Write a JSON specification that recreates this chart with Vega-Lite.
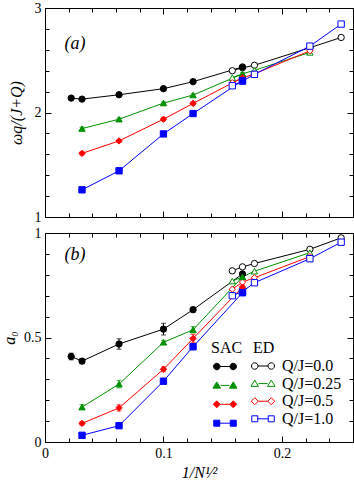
{
  "$schema": "https://vega.github.io/schema/vega-lite/v6.json",
  "padding": {"left": 1, "top": 0, "right": 0, "bottom": 0},
  "background": "white",
  "spacing": 0,
  "config": {
    "font": "Liberation Serif",
    "view": {"stroke": "black", "strokeWidth": 1},
    "axis": {"grid": false, "domain": false, "tickColor": "black", "tickWidth": 1, "labelColor": "black", "labelFont": "Liberation Serif", "labelFontSize": 14, "titleFont": "Liberation Serif", "titleColor": "black", "titleFontWeight": "normal", "titleFontSize": 16, "titleFontStyle": "italic", "labelFlush": false, "labelOverlap": false},
    "legend": {"labelFont": "Liberation Serif", "labelFontSize": 16, "labelColor": "black", "titleFont": "Liberation Serif", "titleFontSize": 16, "titleFontWeight": "normal", "titleColor": "black", "symbolSize": 100, "symbolStrokeWidth": 1}
  },
  "datasets": {
    "pts": [
      {"panel": "a", "method": "SAC", "label": "Q/J=0.0", "x": 0.0221, "y": 2.138, "err": 0.01},
      {"panel": "a", "method": "SAC", "label": "Q/J=0.0", "x": 0.03125, "y": 2.128, "err": 0.01},
      {"panel": "a", "method": "SAC", "label": "Q/J=0.0", "x": 0.0625, "y": 2.17, "err": 0.01},
      {"panel": "a", "method": "SAC", "label": "Q/J=0.0", "x": 0.1, "y": 2.228, "err": 0.01},
      {"panel": "a", "method": "SAC", "label": "Q/J=0.0", "x": 0.125, "y": 2.295, "err": 0.01},
      {"panel": "a", "method": "SAC", "label": "Q/J=0.0", "x": 0.1667, "y": 2.436, "err": 0.01},
      {"panel": "a", "method": "SAC", "label": "Q/J=0.25", "x": 0.03125, "y": 1.846, "err": 0.012},
      {"panel": "a", "method": "SAC", "label": "Q/J=0.25", "x": 0.0625, "y": 1.936, "err": 0.012},
      {"panel": "a", "method": "SAC", "label": "Q/J=0.25", "x": 0.1, "y": 2.09, "err": 0.012},
      {"panel": "a", "method": "SAC", "label": "Q/J=0.25", "x": 0.125, "y": 2.167, "err": 0.012},
      {"panel": "a", "method": "SAC", "label": "Q/J=0.25", "x": 0.1667, "y": 2.369, "err": 0.012},
      {"panel": "a", "method": "SAC", "label": "Q/J=0.5", "x": 0.03125, "y": 1.609, "err": 0.015},
      {"panel": "a", "method": "SAC", "label": "Q/J=0.5", "x": 0.0625, "y": 1.728, "err": 0.015},
      {"panel": "a", "method": "SAC", "label": "Q/J=0.5", "x": 0.1, "y": 1.936, "err": 0.015},
      {"panel": "a", "method": "SAC", "label": "Q/J=0.5", "x": 0.125, "y": 2.087, "err": 0.015},
      {"panel": "a", "method": "SAC", "label": "Q/J=0.5", "x": 0.1667, "y": 2.333, "err": 0.015},
      {"panel": "a", "method": "SAC", "label": "Q/J=1.0", "x": 0.03125, "y": 1.26, "err": 0.012},
      {"panel": "a", "method": "SAC", "label": "Q/J=1.0", "x": 0.0625, "y": 1.442, "err": 0.012},
      {"panel": "a", "method": "SAC", "label": "Q/J=1.0", "x": 0.1, "y": 1.795, "err": 0.012},
      {"panel": "a", "method": "SAC", "label": "Q/J=1.0", "x": 0.125, "y": 1.99, "err": 0.012},
      {"panel": "a", "method": "SAC", "label": "Q/J=1.0", "x": 0.1667, "y": 2.305, "err": 0.012},
      {"panel": "a", "method": "ED", "label": "Q/J=0.0", "x": 0.1581, "y": 2.4},
      {"panel": "a", "method": "ED", "label": "Q/J=0.0", "x": 0.1667, "y": 2.428},
      {"panel": "a", "method": "ED", "label": "Q/J=0.0", "x": 0.1768, "y": 2.452},
      {"panel": "a", "method": "ED", "label": "Q/J=0.0", "x": 0.2236, "y": 2.62},
      {"panel": "a", "method": "ED", "label": "Q/J=0.0", "x": 0.25, "y": 2.718},
      {"panel": "a", "method": "ED", "label": "Q/J=0.25", "x": 0.1581, "y": 2.333},
      {"panel": "a", "method": "ED", "label": "Q/J=0.25", "x": 0.1667, "y": 2.37},
      {"panel": "a", "method": "ED", "label": "Q/J=0.25", "x": 0.1768, "y": 2.404},
      {"panel": "a", "method": "ED", "label": "Q/J=0.25", "x": 0.2236, "y": 2.575},
      {"panel": "a", "method": "ED", "label": "Q/J=0.5", "x": 0.1581, "y": 2.285},
      {"panel": "a", "method": "ED", "label": "Q/J=0.5", "x": 0.1667, "y": 2.33},
      {"panel": "a", "method": "ED", "label": "Q/J=0.5", "x": 0.1768, "y": 2.37},
      {"panel": "a", "method": "ED", "label": "Q/J=0.5", "x": 0.2236, "y": 2.59},
      {"panel": "a", "method": "ED", "label": "Q/J=1.0", "x": 0.1581, "y": 2.256},
      {"panel": "a", "method": "ED", "label": "Q/J=1.0", "x": 0.1667, "y": 2.3},
      {"panel": "a", "method": "ED", "label": "Q/J=1.0", "x": 0.1768, "y": 2.365},
      {"panel": "a", "method": "ED", "label": "Q/J=1.0", "x": 0.2236, "y": 2.635},
      {"panel": "a", "method": "ED", "label": "Q/J=1.0", "x": 0.25, "y": 2.846},

      {"panel": "b", "method": "SAC", "label": "Q/J=0.0", "x": 0.0221, "y": 0.409, "err": 0.016},
      {"panel": "b", "method": "SAC", "label": "Q/J=0.0", "x": 0.03125, "y": 0.387, "err": 0.012},
      {"panel": "b", "method": "SAC", "label": "Q/J=0.0", "x": 0.0625, "y": 0.469, "err": 0.025},
      {"panel": "b", "method": "SAC", "label": "Q/J=0.0", "x": 0.1, "y": 0.54, "err": 0.028},
      {"panel": "b", "method": "SAC", "label": "Q/J=0.0", "x": 0.125, "y": 0.633, "err": 0.012},
      {"panel": "b", "method": "SAC", "label": "Q/J=0.0", "x": 0.1667, "y": 0.804, "err": 0.012},
      {"panel": "b", "method": "SAC", "label": "Q/J=0.25", "x": 0.03125, "y": 0.167, "err": 0.012},
      {"panel": "b", "method": "SAC", "label": "Q/J=0.25", "x": 0.0625, "y": 0.277, "err": 0.018},
      {"panel": "b", "method": "SAC", "label": "Q/J=0.25", "x": 0.1, "y": 0.477, "err": 0.01},
      {"panel": "b", "method": "SAC", "label": "Q/J=0.25", "x": 0.125, "y": 0.537, "err": 0.015},
      {"panel": "b", "method": "SAC", "label": "Q/J=0.25", "x": 0.1667, "y": 0.79, "err": 0.01},
      {"panel": "b", "method": "SAC", "label": "Q/J=0.5", "x": 0.03125, "y": 0.089, "err": 0.008},
      {"panel": "b", "method": "SAC", "label": "Q/J=0.5", "x": 0.0625, "y": 0.163, "err": 0.015},
      {"panel": "b", "method": "SAC", "label": "Q/J=0.5", "x": 0.1, "y": 0.348, "err": 0.012},
      {"panel": "b", "method": "SAC", "label": "Q/J=0.5", "x": 0.125, "y": 0.495, "err": 0.02},
      {"panel": "b", "method": "SAC", "label": "Q/J=0.5", "x": 0.1667, "y": 0.741, "err": 0.01},
      {"panel": "b", "method": "SAC", "label": "Q/J=1.0", "x": 0.03125, "y": 0.032, "err": 0.006},
      {"panel": "b", "method": "SAC", "label": "Q/J=1.0", "x": 0.0625, "y": 0.078, "err": 0.008},
      {"panel": "b", "method": "SAC", "label": "Q/J=1.0", "x": 0.1, "y": 0.291, "err": 0.012},
      {"panel": "b", "method": "SAC", "label": "Q/J=1.0", "x": 0.125, "y": 0.456, "err": 0.015},
      {"panel": "b", "method": "SAC", "label": "Q/J=1.0", "x": 0.1667, "y": 0.714, "err": 0.01},
      {"panel": "b", "method": "ED", "label": "Q/J=0.0", "x": 0.1581, "y": 0.819},
      {"panel": "b", "method": "ED", "label": "Q/J=0.0", "x": 0.1667, "y": 0.838},
      {"panel": "b", "method": "ED", "label": "Q/J=0.0", "x": 0.1768, "y": 0.854},
      {"panel": "b", "method": "ED", "label": "Q/J=0.0", "x": 0.2236, "y": 0.922},
      {"panel": "b", "method": "ED", "label": "Q/J=0.0", "x": 0.25, "y": 0.977},
      {"panel": "b", "method": "ED", "label": "Q/J=0.25", "x": 0.1581, "y": 0.77},
      {"panel": "b", "method": "ED", "label": "Q/J=0.25", "x": 0.1667, "y": 0.79},
      {"panel": "b", "method": "ED", "label": "Q/J=0.25", "x": 0.1768, "y": 0.817},
      {"panel": "b", "method": "ED", "label": "Q/J=0.25", "x": 0.2236, "y": 0.906},
      {"panel": "b", "method": "ED", "label": "Q/J=0.5", "x": 0.1581, "y": 0.731},
      {"panel": "b", "method": "ED", "label": "Q/J=0.5", "x": 0.1667, "y": 0.765},
      {"panel": "b", "method": "ED", "label": "Q/J=0.5", "x": 0.1768, "y": 0.786},
      {"panel": "b", "method": "ED", "label": "Q/J=0.5", "x": 0.2236, "y": 0.887},
      {"panel": "b", "method": "ED", "label": "Q/J=1.0", "x": 0.1581, "y": 0.7},
      {"panel": "b", "method": "ED", "label": "Q/J=1.0", "x": 0.1667, "y": 0.72},
      {"panel": "b", "method": "ED", "label": "Q/J=1.0", "x": 0.1768, "y": 0.762},
      {"panel": "b", "method": "ED", "label": "Q/J=1.0", "x": 0.2236, "y": 0.877},
      {"panel": "b", "method": "ED", "label": "Q/J=1.0", "x": 0.25, "y": 0.956}
    ]
  },
  "data": {"name": "pts"},
  "vconcat": [
    {
      "width": 308,
      "height": 209,
      "resolve": {"axis": {"x": "independent", "y": "independent"}},
      "layer": [
        {
          "encoding": {
            "x": {"field": "x", "type": "quantitative", "scale": {"domain": [0, 0.26], "nice": false, "zero": false}, "axis": {"orient": "bottom", "values": [0, 0.1, 0.2], "labels": false, "tickSize": -6, "title": null}},
            "y": {"field": "y", "type": "quantitative", "scale": {"domain": [1, 3], "nice": false, "zero": false}, "axis": {"orient": "left", "values": [1, 2, 3], "format": ".1~f", "labelOverlap": false, "labelBound": false, "tickSize": -6, "labelPadding": 10, "title": "ωq/(J+Q)", "titlePadding": 10}}
          },
          "layer": [
            {"transform": [{"filter": "datum.panel == 'a'"}], "mark": {"type": "line", "strokeWidth": 1}, "encoding": {"stroke": {"field": "label", "type": "nominal", "scale": {"range": ["#000000", "#009000", "#ff0000", "#0000ff"]}, "legend": null}, "detail": {"field": "method"}, "order": {"field": "x", "type": "quantitative"}}},
            {"transform": [{"filter": "datum.panel == 'a' && datum.method == 'ED'"}], "mark": {"type": "point", "filled": false, "fill": "white", "size": 40, "strokeWidth": 1, "opacity": 1}, "encoding": {"stroke": {"field": "label", "type": "nominal", "legend": null}, "shape": {"field": "label", "type": "nominal", "scale": {"range": ["circle", "triangle-up", "diamond", "square"]}, "legend": null}}},
            {"transform": [{"filter": "datum.panel == 'a' && datum.method == 'SAC'"}], "mark": {"type": "errorbar", "ticks": true, "thickness": 1}, "encoding": {"yError": {"field": "err"}, "color": {"field": "label", "type": "nominal", "scale": {"domain": ["Q/J=0.0", "Q/J=0.25", "Q/J=0.5", "Q/J=1.0"], "range": ["#000000", "#009000", "#ff0000", "#0000ff"]}, "legend": null}}},
            {"transform": [{"filter": "datum.panel == 'a' && datum.method == 'SAC'"}], "mark": {"type": "point", "filled": true, "size": 40, "strokeWidth": 1, "opacity": 1}, "encoding": {"fill": {"field": "label", "type": "nominal", "scale": {"domain": ["Q/J=0.0", "Q/J=0.25", "Q/J=0.5", "Q/J=1.0"], "range": ["#000000", "#009000", "#ff0000", "#0000ff"]}, "legend": null}, "stroke": {"field": "label", "type": "nominal", "legend": null}, "shape": {"field": "label", "type": "nominal", "legend": null}}}
          ]
        },
        {"transform": [{"filter": "datum.panel == 'a'"}], "mark": {"type": "point", "opacity": 0}, "encoding": {"x": {"field": "x", "type": "quantitative", "axis": {"orient": "bottom", "values": [0.02, 0.04, 0.06, 0.08, 0.12, 0.14, 0.16, 0.18, 0.22, 0.24], "labels": false, "tickSize": -4, "title": null}}, "y": {"field": "y", "type": "quantitative", "axis": {"orient": "left", "values": [1.2, 1.4, 1.6, 1.8, 2.2, 2.4, 2.6, 2.8], "labels": false, "tickSize": -4, "title": null}}}},
        {"transform": [{"filter": "datum.panel == 'a'"}], "mark": {"type": "point", "opacity": 0}, "encoding": {"x": {"field": "x", "type": "quantitative", "axis": {"orient": "top", "values": [0, 0.1, 0.2], "labels": false, "tickSize": -6, "title": "(a)", "titleX": 19, "titleY": 35, "titleAlign": "left", "titleBaseline": "middle", "titleAngle": 0, "titleFontSize": 18, "titleFontStyle": "italic"}}, "y": {"field": "y", "type": "quantitative", "axis": {"orient": "right", "values": [1, 2, 3], "labels": false, "tickSize": -6, "title": null}}}},
        {"transform": [{"filter": "datum.panel == 'a'"}], "mark": {"type": "point", "opacity": 0}, "encoding": {"x": {"field": "x", "type": "quantitative", "axis": {"orient": "top", "values": [0.02, 0.04, 0.06, 0.08, 0.12, 0.14, 0.16, 0.18, 0.22, 0.24], "labels": false, "tickSize": -4, "title": null}}, "y": {"field": "y", "type": "quantitative", "axis": {"orient": "right", "values": [1.2, 1.4, 1.6, 1.8, 2.2, 2.4, 2.6, 2.8], "labels": false, "tickSize": -4, "title": null}}}}
      ]
    },
    {
      "width": 308,
      "height": 209,
      "resolve": {"axis": {"x": "independent", "y": "independent"}},
      "layer": [
        {
          "resolve": {"scale": {"fill": "independent", "stroke": "independent", "shape": "independent", "color": "independent"}},
          "encoding": {
            "x": {"field": "x", "type": "quantitative", "scale": {"domain": [0, 0.26], "nice": false, "zero": false}, "axis": {"orient": "bottom", "values": [0, 0.1, 0.2], "format": ".1~f", "tickSize": -6, "labelPadding": 10, "title": "1/N¹⁄²", "titlePadding": 4}},
            "y": {"field": "y", "type": "quantitative", "scale": {"domain": [0, 1], "nice": false, "zero": false}, "axis": {"orient": "left", "values": [0, 0.5, 1], "format": ".1~f", "labelOverlap": false, "tickSize": -6, "labelPadding": 10, "title": "a₀", "titlePadding": 6}}
          },
          "layer": [
            {"transform": [{"filter": "datum.panel == 'b'"}], "mark": {"type": "line", "strokeWidth": 1}, "encoding": {"stroke": {"field": "label", "type": "nominal", "scale": {"domain": ["Q/J=0.0", "Q/J=0.25", "Q/J=0.5", "Q/J=1.0"], "range": ["#000000", "#009000", "#ff0000", "#0000ff"]}, "legend": null}, "detail": {"field": "method"}, "order": {"field": "x", "type": "quantitative"}}},
            {"transform": [{"filter": "datum.panel == 'b' && datum.method == 'ED'"}], "mark": {"type": "point", "filled": false, "fill": "white", "size": 40, "strokeWidth": 1, "opacity": 1}, "encoding": {
              "stroke": {"field": "label", "type": "nominal", "scale": {"domain": ["Q/J=0.0", "Q/J=0.25", "Q/J=0.5", "Q/J=1.0"], "range": ["#000000", "#009000", "#ff0000", "#0000ff"]}, "legend": null},
              "shape": {"field": "label", "type": "nominal", "scale": {"domain": ["Q/J=0.0", "Q/J=0.25", "Q/J=0.5", "Q/J=1.0"], "range": ["circle", "triangle-up", "diamond", "square"]}, "legend": null}}},
            {"transform": [{"filter": "datum.panel == 'b' && datum.method == 'SAC'"}], "mark": {"type": "errorbar", "ticks": true, "thickness": 1}, "encoding": {"yError": {"field": "err"}, "color": {"field": "label", "type": "nominal", "scale": {"domain": ["Q/J=0.0", "Q/J=0.25", "Q/J=0.5", "Q/J=1.0"], "range": ["#000000", "#009000", "#ff0000", "#0000ff"]}, "legend": null}}},
            {"transform": [{"filter": "datum.panel == 'b' && datum.method == 'SAC'"}], "mark": {"type": "point", "filled": true, "size": 40, "strokeWidth": 1, "opacity": 1}, "encoding": {
              "fill": {"field": "label", "type": "nominal", "scale": {"domain": ["Q/J=0.0", "Q/J=0.25", "Q/J=0.5", "Q/J=1.0"], "range": ["#000000", "#009000", "#ff0000", "#0000ff"]}, "legend": null},
              "stroke": {"field": "label", "type": "nominal", "scale": {"domain": ["Q/J=0.0", "Q/J=0.25", "Q/J=0.5", "Q/J=1.0"], "range": ["#000000", "#009000", "#ff0000", "#0000ff"]}, "legend": null},
              "shape": {"field": "label", "type": "nominal", "scale": {"domain": ["Q/J=0.0", "Q/J=0.25", "Q/J=0.5", "Q/J=1.0"], "range": ["circle", "triangle-up", "diamond", "square"]}, "legend": null}}},
            {"transform": [{"filter": "false"}], "mark": {"type": "point", "filled": true, "opacity": 1, "strokeWidth": 1}, "encoding": {
              "fill": {"field": "label", "type": "nominal", "scale": {"domain": ["Q/J=0.0", "Q/J=0.25", "Q/J=0.5", "Q/J=1.0"], "range": ["#000000", "#009000", "#ff0000", "#0000ff"]}, "legend": {"title": "SAC", "orient": "none", "legendX": 166, "legendY": 106.5, "labelExpr": "''", "symbolOffset": 6, "rowPadding": 2.9, "titlePadding": 3}},
              "stroke": {"field": "label", "type": "nominal", "scale": {"domain": ["Q/J=0.0", "Q/J=0.25", "Q/J=0.5", "Q/J=1.0"], "range": ["#000000", "#009000", "#ff0000", "#0000ff"]}},
              "shape": {"field": "label", "type": "nominal", "scale": {"domain": ["Q/J=0.0", "Q/J=0.25", "Q/J=0.5", "Q/J=1.0"], "range": ["M-1,0L1,0M-2.3,0A0.65,0.65,0,1,0,-1,0A0.65,0.65,0,1,0,-2.3,0ZM1,0A0.65,0.65,0,1,0,2.3,0A0.65,0.65,0,1,0,1,0Z", "M-0.9,0L0.9,0M-2.4,0.55L-0.9,0.55L-1.65,-0.7ZM0.9,0.55L2.4,0.55L1.65,-0.7Z", "M-0.95,0L0.95,0M-1.65,-0.7L-0.95,0L-1.65,0.7L-2.35,0ZM1.65,-0.7L2.35,0L1.65,0.7L0.95,0Z", "M-1.05,0L1.05,0M-2.25,-0.6L-1.05,-0.6L-1.05,0.6L-2.25,0.6ZM1.05,-0.6L2.25,-0.6L2.25,0.6L1.05,0.6Z"]}}}},
            {"transform": [{"filter": "false"}], "mark": {"type": "point", "filled": false, "fill": "white", "opacity": 1, "strokeWidth": 1}, "encoding": {
              "stroke": {"field": "label", "type": "nominal", "scale": {"domain": ["Q/J=0.0", "Q/J=0.25", "Q/J=0.5", "Q/J=1.0"], "range": ["#000000", "#009000", "#ff0000", "#0000ff"]}, "legend": {"title": "ED", "orient": "none", "legendX": 208, "legendY": 106.5, "labelOffset": 11, "symbolOffset": 2, "rowPadding": 1.6, "titlePadding": 2.5}},
              "shape": {"field": "label", "type": "nominal", "scale": {"domain": ["Q/J=0.0", "Q/J=0.25", "Q/J=0.5", "Q/J=1.0"], "range": ["M-1,0L1,0M-2.3,0A0.65,0.65,0,1,0,-1,0A0.65,0.65,0,1,0,-2.3,0ZM1,0A0.65,0.65,0,1,0,2.3,0A0.65,0.65,0,1,0,1,0Z", "M-0.9,0L0.9,0M-2.4,0.55L-0.9,0.55L-1.65,-0.7ZM0.9,0.55L2.4,0.55L1.65,-0.7Z", "M-0.95,0L0.95,0M-1.65,-0.7L-0.95,0L-1.65,0.7L-2.35,0ZM1.65,-0.7L2.35,0L1.65,0.7L0.95,0Z", "M-1.05,0L1.05,0M-2.25,-0.6L-1.05,-0.6L-1.05,0.6L-2.25,0.6ZM1.05,-0.6L2.25,-0.6L2.25,0.6L1.05,0.6Z"]}}}}
          ]
        },
        {"transform": [{"filter": "datum.panel == 'b'"}], "mark": {"type": "point", "opacity": 0}, "encoding": {"x": {"field": "x", "type": "quantitative", "axis": {"orient": "bottom", "values": [0.02, 0.04, 0.06, 0.08, 0.12, 0.14, 0.16, 0.18, 0.22, 0.24], "labels": false, "tickSize": -4, "title": null}}, "y": {"field": "y", "type": "quantitative", "axis": {"orient": "left", "values": [0.1, 0.2, 0.3, 0.4, 0.6, 0.7, 0.8, 0.9], "labels": false, "tickSize": -4, "title": null}}}},
        {"transform": [{"filter": "datum.panel == 'b'"}], "mark": {"type": "point", "opacity": 0}, "encoding": {"x": {"field": "x", "type": "quantitative", "axis": {"orient": "top", "values": [0, 0.1, 0.2], "labels": false, "tickSize": -6, "title": "(b)", "titleX": 19, "titleY": 21, "titleAlign": "left", "titleBaseline": "middle", "titleAngle": 0, "titleFontSize": 18, "titleFontStyle": "italic"}}, "y": {"field": "y", "type": "quantitative", "axis": {"orient": "right", "values": [0, 0.5, 1], "labels": false, "tickSize": -6, "title": null}}}},
        {"transform": [{"filter": "datum.panel == 'b'"}], "mark": {"type": "point", "opacity": 0}, "encoding": {"x": {"field": "x", "type": "quantitative", "axis": {"orient": "top", "values": [0.02, 0.04, 0.06, 0.08, 0.12, 0.14, 0.16, 0.18, 0.22, 0.24], "labels": false, "tickSize": -4, "title": null}}, "y": {"field": "y", "type": "quantitative", "axis": {"orient": "right", "values": [0.1, 0.2, 0.3, 0.4, 0.6, 0.7, 0.8, 0.9], "labels": false, "tickSize": -4, "title": null}}}}
      ]
    }
  ]
}
